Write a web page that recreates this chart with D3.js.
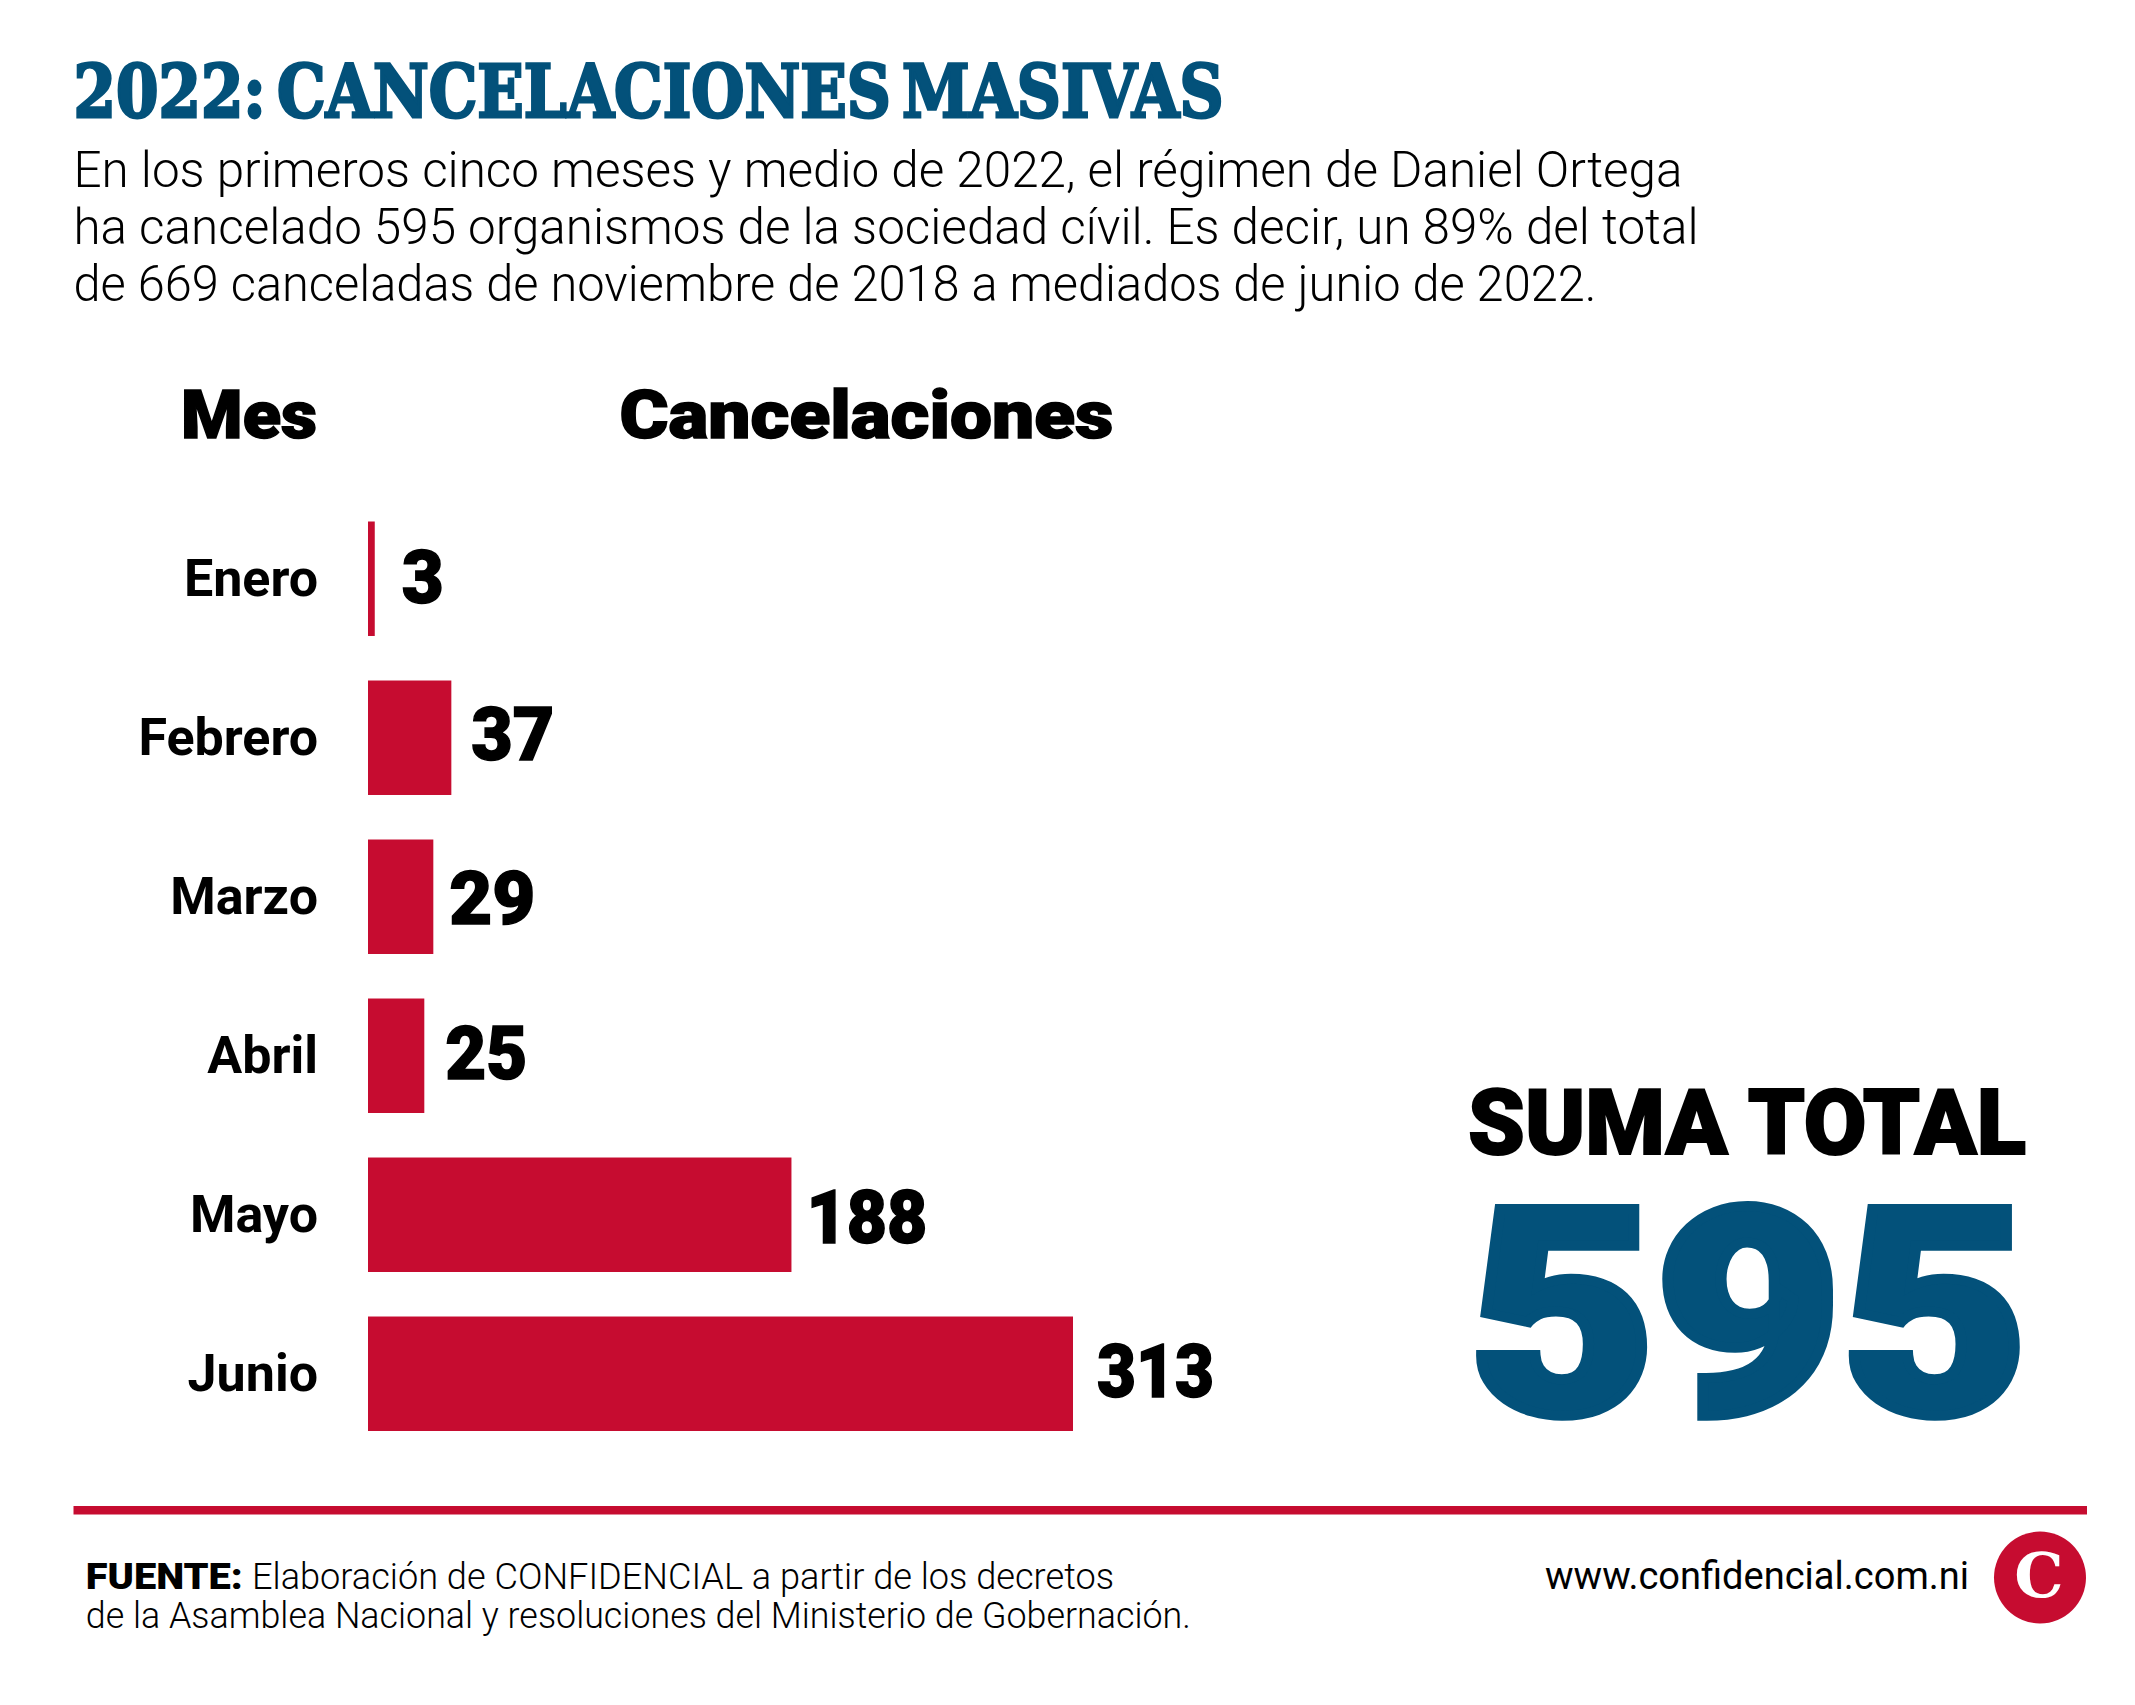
<!DOCTYPE html>
<html lang="es">
<head>
<meta charset="utf-8">
<title>2022: Cancelaciones masivas</title>
<script src="https://cdn.jsdelivr.net/npm/d3@7"></script>
<style>
html,body{margin:0;padding:0;background:#fff;}
svg{display:block;}
.axis path,.axis line{display:none;}
.axis text{font-family:Roboto,sans-serif;font-weight:700;font-size:52px;fill:#000;}
</style>
</head>
<body>
<div id="chart"></div>
<script>
var titulo="2022: CANCELACIONES MASIVAS";
var subtitulo=[
    "En los primeros cinco meses y medio de 2022, el régimen de Daniel Ortega",
    "ha cancelado 595 organismos de la sociedad cívil. Es decir, un 89% del total",
    "de 669 canceladas de noviembre de 2018 a mediados de junio de 2022."
];
var meses=["Enero","Febrero","Marzo","Abril","Mayo","Junio"];
var cancelaciones=[3,37,29,25,188,313];
var sumaTotal=595;
var fuente=[
    "Elaboración de CONFIDENCIAL a partir de los decretos",
    "de la Asamblea Nacional y resoluciones del Ministerio de Gobernación."
];

var W=2135,H=1705;
var RED="#c60c30",BLUE="#03517a";
var svg=d3.select("#chart").append("svg").attr("width",W).attr("height",H).attr("viewBox","0 0 "+W+" "+H);

/* text squeezed to the measured width of the original lettering;
   heavy adds an outline because the installed fonts are lighter than the original */
function fitText(str,x,y,size,width,family,weight,fill,heavy){
    var t=svg.append("text").attr("x",x).attr("y",y)
        .attr("font-family",family).attr("font-weight",weight).attr("font-size",size)
        .attr("fill",fill||"#000")
        .attr("textLength",width).attr("lengthAdjust","spacingAndGlyphs")
        .text(str);
    if(heavy) t.attr("stroke",fill||"#000").attr("stroke-width",heavy).attr("stroke-linejoin","miter");
    return t;
}

fitText(titulo,73.5,117,73,1150,"'DejaVu Serif'",700,BLUE,3).attr("word-spacing",-12);

var subW=[1609,1625,1523];
subtitulo.forEach(function(s,i){fitText(s,73.5,186.5+i*57.2,50,subW[i],"Roboto",300);});

fitText("Mes",181,438,66,136,"Roboto",900,"#000",1.5);
fitText("Cancelaciones",619.5,438,66,494,"Roboto",900,"#000",1.5);

var x=d3.scaleLinear().domain([0,313]).range([368,1073]);
var y=d3.scaleBand().domain(meses).range([521.5,1431]).paddingInner(0.28);
var rows=meses.map(function(m,i){return {mes:m,n:cancelaciones[i]};});

svg.selectAll("rect.bar").data(rows).enter().append("rect").attr("class","bar")
    .attr("x",x(0)).attr("y",function(d){return y(d.mes);})
    .attr("width",function(d){return x(d.n)-x(0);}).attr("height",y.bandwidth())
    .attr("fill",RED);

svg.append("g").attr("class","axis").attr("transform","translate(326,1)")
    .call(d3.axisLeft(y).tickSize(0).tickPadding(8));

/* value labels sit by hand in the original, so gap and baseline vary per bar */
var gap=[27,20,16,21,15,24], base=[24.5,22,27,23,28.5,23], valW=[42,83,86,82,121,117];
svg.selectAll("text.val").data(rows).enter().append("text").attr("class","val")
    .attr("x",function(d,i){return x(d.n)+gap[i];})
    .attr("y",function(d,i){return y(d.mes)+y.bandwidth()/2+base[i];})
    .attr("font-family","Roboto").attr("font-weight",900).attr("font-size",74)
    .attr("stroke","#000").attr("stroke-width",1.5)
    .attr("textLength",function(d,i){return valW[i];}).attr("lengthAdjust","spacingAndGlyphs")
    .text(function(d){return d.n;});

fitText("SUMA TOTAL",1468,1154,90,558,"Roboto",900,"#000",2);
fitText(String(sumaTotal),1469,1413,287,559,"Roboto",900,BLUE,10);

svg.append("rect").attr("x",73.5).attr("y",1506).attr("width",2013.5).attr("height",8.5).attr("fill",RED);

fitText("FUENTE:",85.8,1589,36,157,"Roboto",900);
fitText(fuente[0],252,1589,36,862,"Roboto",300);
fitText(fuente[1],85.8,1628,36,1105,"Roboto",300);
fitText("www.confidencial.com.ni",1545,1589,38,424,"Roboto",400);

svg.append("circle").attr("cx",2040).attr("cy",1577.5).attr("r",46).attr("fill",RED);
svg.append("text").attr("x",2039).attr("y",1597).attr("text-anchor","middle")
    .attr("font-family","'DejaVu Serif'").attr("font-weight",700).attr("font-size",62).attr("fill","#fff").text("C");
</script>
</body>
</html>
